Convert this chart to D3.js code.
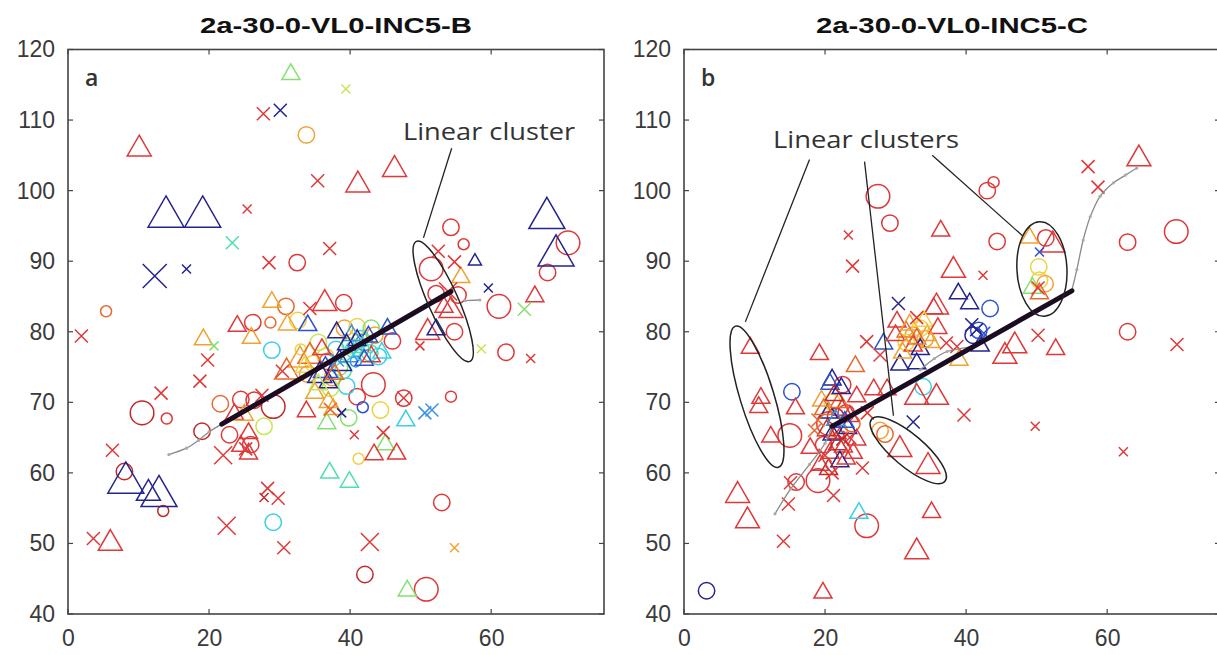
<!DOCTYPE html>
<html><head><meta charset="utf-8">
<script src="https://cdn.jsdelivr.net/npm/d3@7"></script>
<style>body{margin:0;background:#fff}svg{display:block}</style>
</head><body>
<svg id="c" width="1217" height="655"></svg>
<script>
// ---------- data ----------
const titles = ["2a-30-0-VL0-INC5-B", "2a-30-0-VL0-INC5-C"];
const panelLetters = ["a", "b"];
const xTicks = [0, 20, 40, 60];
const yTicks = [40, 50, 60, 70, 80, 90, 100, 110, 120];
const xDomain = [0, 76];
const yDomain = [40, 120];
// colour classes (jet-like, 0 = dark blue ... 11 = dark red)
const palette = ["#24248e","#2c52d2","#3a92e2","#3ccfe6","#4ddfae","#84e070",
                 "#c6e652","#efd242","#f0a232","#e8682e","#e03838","#c22a2a"];

// [x, y, sizeClass, colourClass]
const aCircles = [
 [33.8,107.9,2,8],[32.5,89.8,2,10],[5.4,82.9,1,9],[54.3,94.8,2,10],[56.1,92.4,1,10],
 [51.5,88.9,3,10],[52.2,85.4,2,10],[55.3,85.2,2,10],[54.8,80.0,2,10],[46.0,78.7,2,10],
 [61.1,83.6,3,10],[62.1,77.1,2,10],[70.9,92.6,3,10],[68.0,88.4,2,10],[54.3,70.8,1,10],
 [47.6,70.6,2,10],[53.0,55.8,2,10],[42.1,45.6,2,11],[50.8,43.5,3,10],[10.5,68.5,3,11],
 [14.0,67.7,1,10],[8.0,60.2,2,11],[13.5,54.6,1,11],[29.1,53.0,2,3],[19.0,65.9,2,11],
 [22.9,65.4,2,10],[25.9,64.0,2,10],[21.6,69.8,2,9],[24.5,70.4,2,10],[26.4,70.3,2,10],
 [29.1,69.4,3,11],[27.8,66.6,2,6],[41.0,70.8,2,10],[41.8,69.3,1,1],[44.3,68.9,2,7],
 [39.8,67.8,2,5],[43.3,72.5,3,10],[39.5,72.3,2,3],[41.2,62.0,1,7],[28.9,77.4,2,3],
 [26.2,81.3,2,10],[28.7,81.3,1,9],[30.9,83.6,2,9],[32.6,81.6,2,7],[39.1,84.1,2,10],
 [39.2,80.5,2,8],[41.0,80.7,2,7],[36.5,76.5,2,7],[38.5,75.0,2,5],[40.5,77.5,2,4],
 [42.0,78.5,2,2],[43.5,79.5,2,8],[37.5,73.5,2,8],[34.8,75.5,2,7],[44.0,76.5,2,3],
 [35.5,78.5,2,6],[41.5,79.0,2,3],[40.0,78.0,2,6],[42.8,77.0,2,4],[38.0,77.5,2,3],
 [36.8,75.8,2,9],[39.0,74.5,2,4],[40.8,75.8,1,2],[43.0,80.5,2,5],[37.2,72.0,2,6],
 [34.0,74.0,2,8],[33.0,77.5,1,7]
];
const aTriangles = [
 [31.6,116.5,2,5],[10.1,105.9,3,10],[41.1,100.8,3,10],[46.3,103.0,3,10],[13.9,96.3,4,0],
 [19.1,96.3,4,0],[67.9,96.1,4,0],[69.2,90.8,4,0],[57.7,90.0,1,0],[55.7,87.7,2,8],
 [54.3,83.0,3,10],[53.3,83.5,2,10],[51.0,79.9,3,10],[52.2,80.3,2,0],[66.2,85.0,2,10],
 [28.9,84.2,2,8],[36.4,84.0,3,10],[24.0,80.8,2,10],[31.1,81.0,2,8],[26.0,79.1,2,8],
 [19.2,78.9,2,8],[34.0,80.9,2,1],[38.1,79.9,2,0],[41.0,78.8,2,0],[42.6,79.3,2,1],
 [45.3,80.4,2,1],[44.5,77.0,2,3],[39.8,76.5,2,2],[43.0,76.5,2,10],[34.3,76.5,3,9],
 [32.9,76.0,3,8],[31.0,74.3,3,9],[35.7,73.8,3,0],[36.9,72.8,2,0],[35.0,71.3,2,8],
 [36.9,70.0,2,8],[37.6,69.0,2,8],[33.8,68.7,2,10],[23.6,68.3,2,10],[25.0,68.2,2,8],
 [25.6,65.6,2,10],[24.5,63.8,2,10],[25.6,62.7,2,10],[36.7,67.0,2,5],[47.9,67.4,2,3],
 [45.0,64.0,2,5],[43.4,62.6,2,10],[46.6,62.7,2,10],[37.1,60.0,2,4],[39.9,58.7,2,4],
 [48.1,43.3,2,5],[8.2,58.6,4,0],[11.4,57.1,3,0],[12.9,56.7,4,0],[6.0,50.0,3,10],
 [38.5,75.5,3,0],[36.5,74.5,3,1],[33.5,75.0,2,7],[40.2,79.5,2,2],[41.8,77.8,2,4],
 [39.5,78.2,2,0],[37.8,74.0,2,9],[35.5,72.5,2,6],[42.0,76.0,2,1],[36.0,77.5,2,10]
];
const aCrosses = [
 [39.4,114.4,1,6],[27.7,110.9,2,10],[30.1,111.4,2,0],[35.4,101.4,2,10],[25.4,97.4,1,10],
 [23.3,92.6,2,4],[12.3,87.9,4,0],[16.8,88.9,1,0],[28.5,89.8,2,10],[37.1,91.8,2,10],
 [1.9,79.4,2,10],[52.5,91.4,2,10],[54.8,89.9,2,10],[53.9,85.7,3,10],[59.6,86.2,1,0],
 [64.7,83.2,2,5],[58.6,77.6,1,6],[65.6,76.2,1,10],[49.9,78.0,1,10],[20.7,78.0,1,5],
 [19.8,76.0,2,10],[18.7,73.0,2,10],[13.2,71.3,2,10],[27.5,71.0,2,10],[30.4,74.4,2,10],
 [34.3,83.3,2,10],[6.3,63.2,2,10],[22.0,62.5,3,10],[25.2,63.4,2,10],[3.6,50.7,2,10],
 [22.5,52.5,3,10],[28.3,57.8,2,10],[29.8,56.4,2,10],[27.8,56.5,1,11],[30.6,49.4,2,10],
 [42.8,50.2,3,10],[54.8,49.4,1,8],[40.6,65.4,1,10],[44.7,65.7,2,10],[50.6,68.5,2,2],
 [51.6,68.9,2,2],[47.6,70.6,2,10],[38.8,68.5,1,0],[37.2,69.0,2,9],[40.5,76.8,2,3],
 [38.2,76.0,2,2]
];

const bCircles = [
 [27.5,99.2,3,10],[29.2,95.4,2,10],[43.0,100.0,2,10],[43.9,101.2,1,10],[44.4,92.8,2,10],
 [62.9,92.7,2,10],[69.8,94.2,3,10],[62.9,80.0,2,10],[51.3,93.3,2,10],[50.3,89.2,2,7],
 [50.4,87.3,2,7],[51.2,86.8,2,8],[43.4,83.3,2,1],[41.8,80.2,2,1],[33.9,72.2,2,3],
 [27.8,66.0,2,8],[28.5,65.5,2,9],[25.9,52.5,3,10],[3.2,43.3,2,0],[15.9,58.7,2,10],
 [19.0,58.9,3,10],[15.0,65.3,3,10],[15.3,71.5,2,1],[22.5,72.5,2,10],[23.0,68.5,2,10],
 [20.5,67.0,3,10],[22.0,66.0,2,8],[21.0,70.0,2,7],[32.5,79.5,2,8],[33.5,80.5,2,7],
 [21.5,68.0,2,11],[23.8,67.0,2,9],[19.8,64.0,2,10],[31.5,78.5,2,7],[34.2,79.0,2,8],
 [41.0,79.5,2,0]
];
const bTriangles = [
 [64.5,104.5,3,10],[36.4,94.3,2,10],[38.2,88.7,3,10],[35.8,83.5,3,10],[38.9,85.4,2,0],
 [40.5,84.0,2,0],[42.0,78.0,2,0],[39.0,76.0,2,8],[45.5,76.5,3,10],[46.9,78.0,3,10],
 [52.7,77.5,2,10],[49.0,93.3,2,8],[52.3,92.3,3,10],[49.4,86.2,2,5],[50.4,85.4,2,9],
 [35.8,70.7,3,10],[33.0,70.7,3,10],[30.6,63.3,3,10],[34.6,60.9,3,10],[35.1,54.4,2,10],
 [33.0,48.8,3,10],[24.8,54.3,2,3],[19.7,43.0,2,10],[7.6,56.8,3,10],[9.0,53.2,3,10],
 [9.4,77.7,2,10],[10.9,70.6,2,10],[10.6,69.3,2,10],[12.3,65.1,2,10],[15.8,69.1,2,10],
 [19.2,76.8,2,10],[24.3,75.1,2,9],[21.0,73.2,2,0],[20.7,72.6,2,1],[24.5,70.8,2,10],
 [26.9,71.8,2,10],[28.8,71.8,2,10],[22.4,68.9,2,10],[23.5,68.0,2,10],[21.7,65.6,2,10],
 [24.5,64.7,2,10],[22.6,63.7,2,10],[20.7,62.8,2,10],[24.0,62.8,2,10],[21.0,65.4,2,0],
 [22.1,61.6,2,0],[17.9,63.5,2,10],[19.3,61.1,2,10],[20.5,68.5,2,0],[22.0,70.0,2,9],
 [19.5,70.2,2,8],[23.2,66.3,2,0],[28.3,78.3,2,1],[30.2,81.4,2,10],[30.6,75.3,2,0],
 [33.0,75.5,2,0],[35.4,83.3,2,10],[31.5,80.0,2,9],[32.5,78.0,2,10],[34.5,79.5,2,8],
 [33.5,77.5,2,0],[32.0,81.0,2,8],[34.0,81.5,2,7],[36.0,80.5,2,10],[21.3,71.0,2,11],
 [20.2,66.0,2,11],[22.8,67.2,2,1],[21.8,64.0,2,11],[23.0,62.0,2,10],[20.5,60.5,2,11],
 [19.8,69.0,2,9],[21.5,67.5,2,2],[22.3,72.0,2,0],[31.0,77.0,2,8],[33.0,79.0,2,9],
 [30.0,79.5,2,10],[35.0,78.5,2,8]
];
const bCrosses = [
 [23.3,93.7,1,10],[23.9,89.3,2,10],[57.3,103.4,2,10],[58.7,100.5,2,10],[62.3,63.0,1,10],
 [69.9,78.2,2,10],[49.8,66.6,1,10],[50.2,79.5,2,10],[42.4,88.0,1,10],[30.4,84.0,2,0],
 [39.7,68.2,2,10],[32.5,67.2,2,0],[14.1,50.3,2,10],[14.8,55.6,2,10],[15.1,58.6,2,10],
 [21.2,56.8,2,10],[25.3,60.7,2,10],[25.9,78.6,2,10],[27.8,76.7,2,10],[37.2,78.4,2,10],
 [38.7,77.9,2,10],[41.5,80.3,2,0],[40.8,81.0,2,0],[42.5,79.8,2,1],[50.4,91.3,1,1],
 [50.2,86.2,2,10],[23.5,65.0,2,10],[21.0,60.0,2,10],[18.5,66.0,2,9],[26.0,68.5,2,10],
 [31.5,79.0,2,8],[33.0,82.0,2,10],[20.0,62.5,2,10],[22.5,64.8,2,11],[19.0,67.5,2,9]
];

// trend lines (data coords)
const aThick = [[21.8,66.9],[54.3,85.7]];
const aGray = [[[14.3,62.6],[16.8,63.5],[18.5,64.6],[20.0,65.8],[21.8,66.9]],
               [[56.3,84.4],[58.4,84.5]]];
const bThick = [[21.0,66.6],[55.0,85.8]];
const bGray = [[[12.9,54.2],[15.1,57.7],[17.8,61.2],[20.0,64.2],[21.0,66.6]],
               [[55.0,85.9],[55.7,88.8],[56.6,93.0],[57.6,96.3],[59.0,99.2],[60.9,101.1],[62.6,102.2],[64.2,103.2]],
               [[33.5,74.6],[35.5,76.2],[37.3,77.2],[41.0,77.9]]];

// annotations: ellipse major-axis endpoints (data coords)
const aEllipses = [[[49.4,92.8],[57.0,75.8]]];
const bEllipses = [[[7.3,80.8],[13.4,60.8]], [[26.6,67.6],[37.0,58.8]], [[50.4,95.6],[51.1,82.2]]];
const aPointers = [[[54.4,106.0],[50.4,93.3]]];
const bPointers = [[[17.8,104.4],[8.7,81.4]], [[25.6,104.1],[29.7,68.1]], [[35.2,105.0],[48.0,93.6]]];
const aNote = {text: "Linear cluster", at: [59.7, 107.2]};
const bNote = {text: "Linear clusters", at: [25.8, 106.0]};

// ---------- drawing ----------
(function () {
const svg = d3.select("#c");
const panels = [
 {left: 68, circles: aCircles, tris: aTriangles, crosses: aCrosses, thick: aThick, gray: aGray,
  ell: aEllipses, ptr: aPointers, note: aNote, minor: [15], noteW: 172},
 {left: 684, circles: bCircles, tris: bTriangles, crosses: bCrosses, thick: bThick, gray: bGray,
  ell: bEllipses, ptr: bPointers, note: bNote, minor: [17, 16, 25], noteW: 186}
];
const pTop = 49.5, pBottom = 614, W = 536;
const circR = {1: 5.5, 2: 8.2, 3: 11.8};
const triW = {1: 13, 2: 18, 3: 24, 4: 36};
const crossH = {1: 4.5, 2: 6.5, 3: 9, 4: 12};

panels.forEach((p, i) => {
  const x = d3.scaleLinear().domain(xDomain).range([p.left, p.left + W]);
  const y = d3.scaleLinear().domain(yDomain).range([pBottom, pTop]);
  const g = svg.append("g");
  const clipId = "clip" + i;
  svg.append("clipPath").attr("id", clipId).append("rect")
    .attr("x", p.left).attr("y", pTop).attr("width", W).attr("height", pBottom - pTop);

  g.append("text").attr("x", p.left + W / 2).attr("y", 33).attr("text-anchor", "middle")
    .attr("font-family", "Liberation Sans, Arial, sans-serif").attr("font-weight", "bold")
    .attr("font-size", 22).attr("fill", "#111")
    .attr("textLength", 272).attr("lengthAdjust", "spacingAndGlyphs").text(titles[i]);

  const axFont = "Liberation Sans, Arial, sans-serif";
  const xAxis = g.append("g").attr("transform", `translate(0,${pBottom})`)
    .call(d3.axisBottom(x).tickValues(xTicks).tickSize(0).tickPadding(16));
  const yAxis = g.append("g").attr("transform", `translate(${p.left},0)`)
    .call(d3.axisLeft(y).tickValues(yTicks).tickSize(0).tickPadding(13));
  [xAxis, yAxis].forEach(a => {
    a.select(".domain").remove();
    a.selectAll("text").attr("font-family", axFont).attr("font-size", 23).attr("fill", "#3a3a3a");
  });
  xAxis.selectAll("text").attr("dy", "0.71em");

  const plot = g.append("g").attr("clip-path", `url(#${clipId})`);

  plot.append("g").selectAll("circle").data(p.circles).join("circle")
    .attr("cx", d => x(d[0])).attr("cy", d => y(d[1])).attr("r", d => circR[d[2]])
    .attr("fill", "none").attr("stroke", d => palette[d[3]]).attr("stroke-width", 1.5);
  plot.append("g").selectAll("path").data(p.tris).join("path")
    .attr("transform", d => `translate(${x(d[0])},${y(d[1])})`)
    .attr("d", d => d3.symbol().type(d3.symbolTriangle).size(triW[d[2]] * triW[d[2]] * Math.sqrt(3) / 4)())
    .attr("fill", "none").attr("stroke", d => palette[d[3]]).attr("stroke-width", 1.5);
  plot.append("g").selectAll("path").data(p.crosses).join("path")
    .attr("transform", d => `translate(${x(d[0])},${y(d[1])})`)
    .attr("d", d => { const h = crossH[d[2]]; return `M${-h},${-h}L${h},${h}M${-h},${h}L${h},${-h}`; })
    .attr("fill", "none").attr("stroke", d => palette[d[3]]).attr("stroke-width", 1.5);

  const line = d3.line().x(d => x(d[0])).y(d => y(d[1])).curve(d3.curveCatmullRom);
  p.gray.forEach(seg => {
    plot.append("path").attr("d", line(seg)).attr("fill", "none")
      .attr("stroke", "#8a8a8a").attr("stroke-width", 1.3);
    plot.append("g").selectAll("circle").data(seg).join("circle")
      .attr("cx", d => x(d[0])).attr("cy", d => y(d[1])).attr("r", 1.6).attr("fill", "#aaa");
  });
  plot.append("path").attr("d", d3.line().x(d => x(d[0])).y(d => y(d[1]))(p.thick))
    .attr("stroke", "#1c0c22").attr("stroke-width", 5).attr("stroke-linecap", "round");

  p.ell.forEach((e, k) => {
    const x1 = x(e[0][0]), y1 = y(e[0][1]), x2 = x(e[1][0]), y2 = y(e[1][1]);
    const cx = (x1 + x2) / 2, cy = (y1 + y2) / 2;
    const rx = Math.hypot(x2 - x1, y2 - y1) / 2;
    const ang = Math.atan2(y2 - y1, x2 - x1) * 180 / Math.PI;
    g.append("ellipse").attr("cx", 0).attr("cy", 0).attr("rx", rx).attr("ry", p.minor[k])
      .attr("transform", `translate(${cx},${cy}) rotate(${ang})`)
      .attr("fill", "none").attr("stroke", "#222").attr("stroke-width", 1.5);
  });
  p.ptr.forEach(l => {
    g.append("line").attr("x1", x(l[0][0])).attr("y1", y(l[0][1]))
      .attr("x2", x(l[1][0])).attr("y2", y(l[1][1]))
      .attr("stroke", "#222").attr("stroke-width", 1.3);
  });
  g.append("text").attr("x", x(p.note.at[0])).attr("y", y(p.note.at[1]))
    .attr("text-anchor", "middle").attr("font-family", "Open Sans, sans-serif")
    .attr("font-size", 23).attr("fill", "#333")
    .attr("textLength", p.noteW).attr("lengthAdjust", "spacingAndGlyphs").text(p.note.text);

  g.append("text").attr("x", p.left + 17).attr("y", pTop + 36)
    .attr("font-family", "Open Sans, sans-serif").attr("font-weight", "600")
    .attr("font-size", 23).attr("fill", "#333").text(panelLetters[i]);

  g.append("rect").attr("x", p.left).attr("y", pTop).attr("width", W).attr("height", pBottom - pTop)
    .attr("fill", "none").attr("stroke", "#444").attr("stroke-width", 1.6);
  const tk = g.append("g").attr("stroke", "#444").attr("stroke-width", 1.2);
  xTicks.forEach(t => {
    tk.append("line").attr("x1", x(t)).attr("x2", x(t)).attr("y1", pBottom).attr("y2", pBottom - 5);
    tk.append("line").attr("x1", x(t)).attr("x2", x(t)).attr("y1", pTop).attr("y2", pTop + 5);
  });
  yTicks.forEach(t => {
    tk.append("line").attr("x1", p.left).attr("x2", p.left + 5).attr("y1", y(t)).attr("y2", y(t));
    tk.append("line").attr("x1", p.left + W).attr("x2", p.left + W - 5).attr("y1", y(t)).attr("y2", y(t));
  });
});
})();
</script>
</body></html>
